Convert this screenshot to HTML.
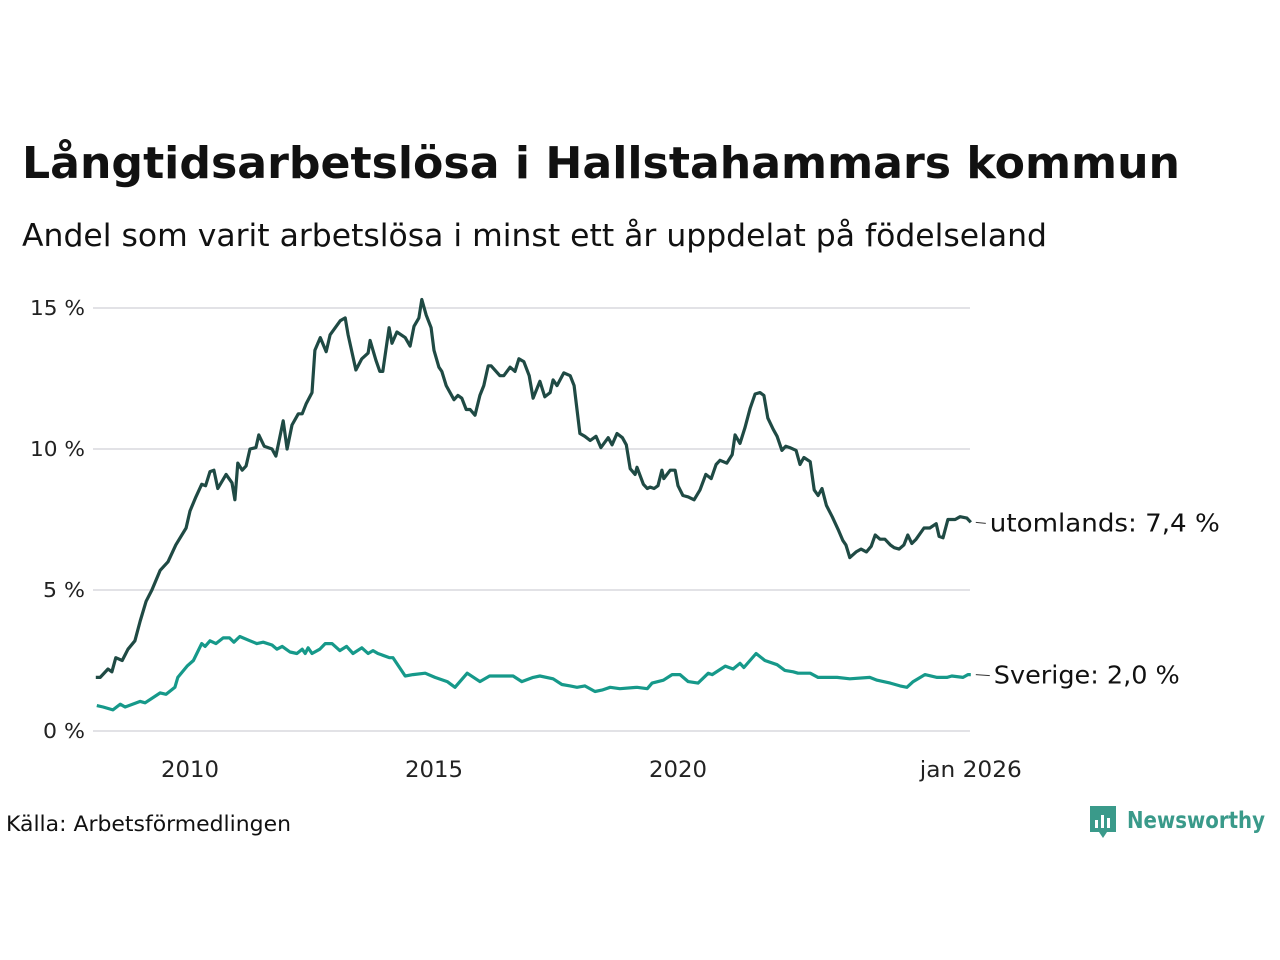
<!DOCTYPE html>
<html><head><meta charset="utf-8"><style>
html,body{margin:0;padding:0;background:#fff;}
svg{display:block;font-family:"DejaVu Sans","Liberation Sans",sans-serif;}
</style></head><body>
<svg id="chart" width="1280" height="960" viewBox="0 0 1280 960" xmlns="http://www.w3.org/2000/svg">
<text x="22" y="178" font-size="44" font-weight="bold" fill="#111" textLength="1158" lengthAdjust="spacingAndGlyphs">Långtidsarbetslösa i Hallstahammars kommun</text>
<text x="22" y="246" font-size="31" fill="#111" textLength="1025" lengthAdjust="spacingAndGlyphs">Andel som varit arbetslösa i minst ett år uppdelat på födelseland</text>
<g id="grid"></g>
<g id="yticks"></g>
<g id="xticks"></g>
<g id="lines"></g>
<text x="6" y="831" font-size="21" fill="#111" textLength="285" lengthAdjust="spacingAndGlyphs">Källa: Arbetsförmedlingen</text>
<g>
<path d="M1090 806 h26 v26 h-9 l-4 6 l-4 -6 h-9 z" fill="#3a9a8a"/>
<rect x="1095" y="820" width="3" height="8" fill="#fff"/><rect x="1101" y="815" width="3" height="13" fill="#fff"/><rect x="1107" y="818" width="3" height="10" fill="#fff"/>
<text x="1127" y="828" font-size="23" font-weight="bold" fill="#3a9a8a" textLength="138" lengthAdjust="spacingAndGlyphs">Newsworthy</text>
</g>
</svg>
<script>
const yTicks = [0, 5, 10, 15];
const yTickLabels = ["0 %", "5 %", "10 %", "15 %"];
const xTicks = [2010, 2015, 2020, 2026];
const xTickLabels = ["2010", "2015", "2020", "jan 2026"];
const utomDates = [2008.07,2008.16,2008.32,2008.40,2008.48,2008.61,2008.73,2008.87,2008.98,2009.10,2009.22,2009.39,2009.55,2009.71,2009.92,2010.00,2010.12,2010.24,2010.32,2010.41,2010.49,2010.57,2010.74,2010.86,2010.92,2010.98,2011.07,2011.15,2011.23,2011.35,2011.41,2011.52,2011.68,2011.76,2011.91,2011.99,2012.09,2012.22,2012.30,2012.38,2012.50,2012.56,2012.67,2012.79,2012.87,2013.08,2013.18,2013.24,2013.40,2013.52,2013.65,2013.69,2013.81,2013.89,2013.95,2014.08,2014.14,2014.24,2014.41,2014.51,2014.59,2014.69,2014.75,2014.84,2014.94,2015.00,2015.10,2015.16,2015.25,2015.41,2015.49,2015.57,2015.66,2015.74,2015.84,2015.94,2016.02,2016.11,2016.17,2016.35,2016.43,2016.56,2016.66,2016.74,2016.84,2016.95,2017.03,2017.17,2017.27,2017.38,2017.44,2017.52,2017.66,2017.79,2017.87,2017.99,2018.09,2018.20,2018.32,2018.42,2018.57,2018.65,2018.75,2018.86,2018.94,2019.02,2019.12,2019.16,2019.29,2019.37,2019.43,2019.51,2019.59,2019.67,2019.71,2019.84,2019.94,2020.00,2020.10,2020.21,2020.33,2020.45,2020.57,2020.68,2020.78,2020.86,2021.00,2021.11,2021.17,2021.27,2021.37,2021.48,2021.58,2021.68,2021.76,2021.84,2021.95,2022.03,2022.13,2022.21,2022.29,2022.42,2022.50,2022.58,2022.71,2022.79,2022.87,2022.95,2023.04,2023.16,2023.28,2023.38,2023.44,2023.52,2023.65,2023.75,2023.86,2023.96,2024.04,2024.14,2024.24,2024.35,2024.43,2024.53,2024.63,2024.71,2024.79,2024.88,2025.04,2025.16,2025.29,2025.35,2025.43,2025.53,2025.68,2025.78,2025.92,2026.00];
const utomValues = [1.9,1.9,2.2,2.1,2.6,2.5,2.9,3.2,3.9,4.6,5.0,5.7,6.0,6.6,7.2,7.8,8.3,8.75,8.7,9.2,9.25,8.6,9.1,8.8,8.2,9.5,9.25,9.4,10.0,10.05,10.5,10.1,10.0,9.75,11.0,10.0,10.85,11.25,11.25,11.6,12.0,13.5,13.95,13.45,14.05,14.55,14.65,14.05,12.8,13.2,13.4,13.85,13.15,12.75,12.75,14.3,13.75,14.15,13.95,13.65,14.35,14.65,15.3,14.75,14.3,13.5,12.9,12.75,12.25,11.75,11.9,11.8,11.4,11.4,11.2,11.9,12.25,12.95,12.95,12.6,12.6,12.9,12.75,13.2,13.1,12.6,11.8,12.4,11.85,12.0,12.45,12.25,12.7,12.6,12.25,10.55,10.45,10.3,10.45,10.05,10.4,10.15,10.55,10.4,10.15,9.3,9.1,9.35,8.75,8.6,8.65,8.6,8.7,9.25,8.95,9.25,9.25,8.7,8.35,8.3,8.2,8.55,9.1,8.95,9.45,9.6,9.5,9.8,10.5,10.2,10.75,11.45,11.95,12.0,11.9,11.1,10.7,10.45,9.95,10.1,10.05,9.95,9.45,9.7,9.55,8.55,8.35,8.6,8.0,7.6,7.15,6.75,6.6,6.15,6.35,6.45,6.35,6.55,6.95,6.8,6.8,6.6,6.5,6.45,6.6,6.95,6.65,6.8,7.2,7.2,7.35,6.9,6.85,7.5,7.5,7.6,7.55,7.4];
const sveDates = [2008.09,2008.22,2008.42,2008.57,2008.67,2008.98,2009.08,2009.39,2009.51,2009.69,2009.75,2009.94,2010.07,2010.24,2010.31,2010.41,2010.53,2010.68,2010.81,2010.90,2011.02,2011.23,2011.37,2011.50,2011.68,2011.78,2011.89,2012.05,2012.19,2012.30,2012.36,2012.42,2012.50,2012.66,2012.77,2012.91,2013.07,2013.21,2013.34,2013.52,2013.65,2013.75,2013.85,2014.09,2014.16,2014.41,2014.57,2014.82,2015.02,2015.27,2015.43,2015.68,2015.94,2016.14,2016.41,2016.62,2016.80,2017.03,2017.17,2017.44,2017.62,2017.79,2017.93,2018.09,2018.30,2018.44,2018.61,2018.81,2019.16,2019.37,2019.47,2019.70,2019.88,2020.04,2020.21,2020.41,2020.62,2020.70,2020.97,2021.13,2021.27,2021.35,2021.60,2021.78,2022.03,2022.19,2022.36,2022.46,2022.71,2022.87,2023.05,2023.26,2023.52,2023.93,2024.08,2024.35,2024.55,2024.69,2024.82,2025.06,2025.31,2025.51,2025.61,2025.84,2025.94,2026.00];
const sveValues = [0.9,0.85,0.75,0.95,0.85,1.05,1.0,1.35,1.3,1.55,1.9,2.3,2.5,3.1,3.0,3.2,3.1,3.3,3.3,3.15,3.35,3.2,3.1,3.15,3.05,2.9,3.0,2.8,2.75,2.9,2.75,2.95,2.75,2.9,3.1,3.1,2.85,3.0,2.75,2.95,2.75,2.85,2.75,2.6,2.6,1.95,2.0,2.05,1.9,1.75,1.55,2.05,1.75,1.95,1.95,1.95,1.75,1.9,1.95,1.85,1.65,1.6,1.55,1.6,1.4,1.45,1.55,1.5,1.55,1.5,1.7,1.8,2.0,2.0,1.75,1.7,2.05,2.0,2.3,2.2,2.4,2.25,2.75,2.5,2.35,2.15,2.1,2.05,2.05,1.9,1.9,1.9,1.85,1.9,1.8,1.7,1.6,1.55,1.75,2.0,1.9,1.9,1.95,1.9,2.0,2.0];

const NS = "http://www.w3.org/2000/svg";
const X0 = 92.4, PXY = 48.8, Y0 = 731, PXV = 28.2;
function xScale(year){ return X0 + (year - 2008) * PXY; }
function yScale(v){ return Y0 - v * PXV; }
function mk(tag, attrs, parent){ const e = document.createElementNS(NS, tag); for (const k in attrs) e.setAttribute(k, attrs[k]); parent.appendChild(e); return e; }

const grid = document.getElementById('grid');
const yt = document.getElementById('yticks');
yTicks.forEach((v, i) => {
  const l = mk('line', {x1: 93, x2: 970, y1: yScale(v), y2: yScale(v), stroke: '#e2e2e6', 'stroke-width': 2}, grid);
  
  
  const t = mk('text', {x: 85, y: yScale(v) + 7, 'text-anchor': 'end', 'font-size': 20, fill: '#222', textLength: (yTickLabels[i].length === 3 ? 42 : 55), lengthAdjust: 'spacingAndGlyphs'}, yt);
  t.textContent = yTickLabels[i];
  
  
});
const xt = document.getElementById('xticks');
xTicks.forEach((v, i) => {
  const t = mk('text', {x: xScale(v), y: 777, 'text-anchor': 'middle', 'font-size': 22, fill: '#222', textLength: (xTickLabels[i].length > 4 ? 102 : 58), lengthAdjust: 'spacingAndGlyphs'}, xt);
  t.textContent = xTickLabels[i];
  
  
});

const lines = document.getElementById('lines');
function drawLine(dates, vals, color, name){
  const d = dates.map((yr, i) => (i ? 'L' : 'M') + xScale(yr).toFixed(1) + ' ' + yScale(vals[i]).toFixed(1)).join(' ');
  const p = mk('path', {d: d, fill: 'none', stroke: color, 'stroke-width': 3.2, 'stroke-linejoin': 'round'}, lines);
  
  
}
drawLine(sveDates, sveValues, '#16998a', 'sverige-line');
drawLine(utomDates, utomValues, '#1f4a44', 'utomlands-line');

function endLabel(dates, vals, txt, name, dx, w){
  const lx = xScale(dates[dates.length - 1]), ly = yScale(vals[vals.length - 1]);
  mk('line', {x1: lx + 5, x2: lx + dx - 4, y1: ly, y2: ly + 1, stroke: '#333', 'stroke-width': 1}, lines);
  const t = mk('text', {x: lx + dx, y: ly + 9, 'font-size': 25, fill: '#111', textLength: w, lengthAdjust: 'spacingAndGlyphs'}, lines);
  t.textContent = txt;
  
  
}
endLabel(utomDates, utomValues, 'utomlands: 7,4 %', 'utomlands-label', 19, 230);
endLabel(sveDates, sveValues, 'Sverige: 2,0 %', 'sverige-label', 23, 186);
</script>
</body></html>
